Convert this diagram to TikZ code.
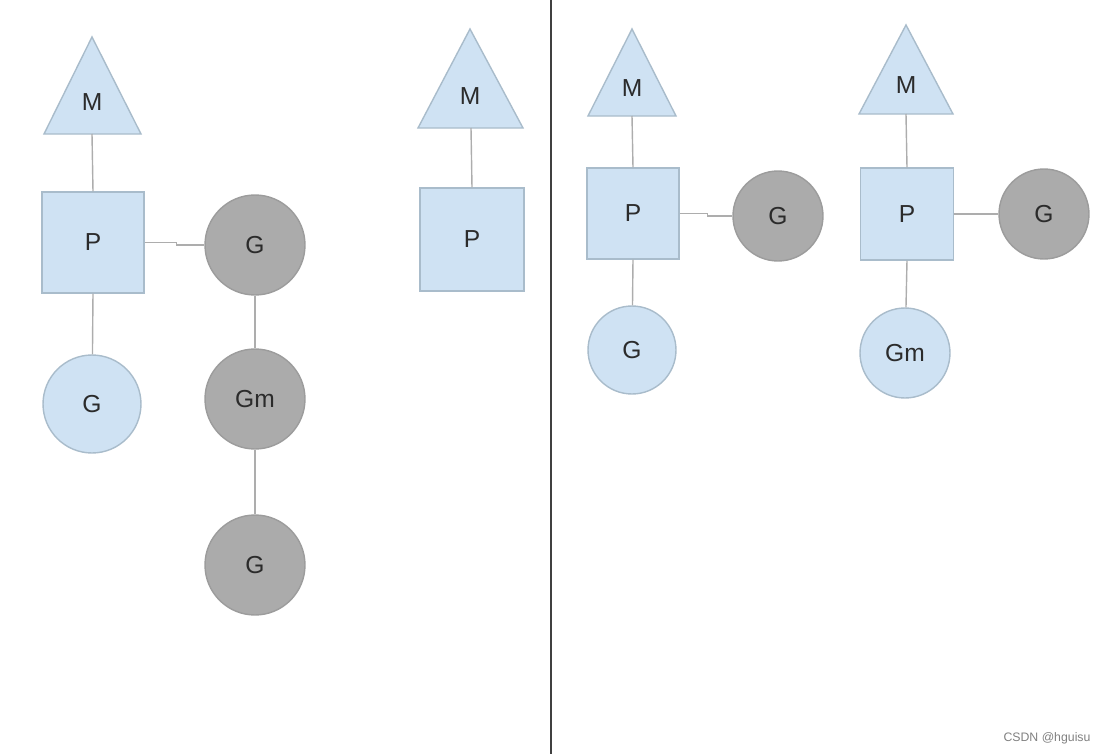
\documentclass[tikz,border=0pt]{standalone}
\usepackage{fontspec}
\setmainfont{Liberation Sans}
\usetikzlibrary{positioning}

\definecolor{procblue}{HTML}{CFE2F3}
\definecolor{procedge}{HTML}{A9BCCB}
\definecolor{gorgray}{HTML}{ABABAB}
\definecolor{goredge}{HTML}{9C9C9C}
\definecolor{linkgray}{HTML}{ADADAD}
\definecolor{textdark}{HTML}{2B2B2B}

\tikzset{
    lbl/.style={text=textdark, font=\fontsize{14}{16}\selectfont},
    machine/.style={fill=procblue, draw=procedge, line width=0.8pt},
    proc/.style={lbl, rectangle, fill=procblue, draw=procedge, line width=0.8pt},
    gidle/.style={lbl, circle, fill=procblue, draw=procedge, line width=0.8pt, inner sep=0pt},
    grun/.style={lbl, circle, fill=gorgray, draw=goredge, line width=0.8pt, inner sep=0pt},
    link/.style={draw=linkgray, line width=0.8pt}
}

\begin{document}
\begin{tikzpicture}[x=0.02cm, y=-0.02cm]
    \useasboundingbox (0,0) rectangle (1100,754);

    % ---- left: M, P and a G blocked in a syscall (Gm) ----
    \draw[machine] (92,37) -- (141,134) -- (44,134) -- cycle;
    \node[lbl] (m1) at (92,102) {M};
    \coordinate (m1b) at (92,134);
    \node[proc, minimum width=2.04cm, minimum height=2.02cm] (p1) at (93,242.5) {P};
    \node[grun, minimum size=2cm] (g1) at (255,245) {G};
    \node[grun, minimum size=2cm] (gm1) at (255,399) {Gm};
    \node[grun, minimum size=2cm] (g2) at (255,565) {G};
    \node[gidle, minimum size=1.96cm] (g3) at (92,404) {G};

    \draw[link] (m1b) -- (p1.north);
    \draw[link] (p1.east) -- ++(32,0) |- (g1.west);
    \draw[link] (g1) -- (gm1);
    \draw[link] (gm1) -- (g2);
    \draw[link] (p1.south) -- (g3);

    % ---- middle: idle M with P ----
    \draw[machine] (470,29) -- (523,128) -- (418,128) -- cycle;
    \node[lbl] (m2) at (470,96) {M};
    \coordinate (m2b) at (471,128);
    \node[proc, minimum width=2.08cm, minimum height=2.06cm] (p2) at (472,239.5) {P};
    \draw[link] (m2b) -- (p2.north);

    % divider
    \draw[draw=black!75, line width=1.7pt] (551,0) coordinate (dtop) -- (551,754) coordinate (dbot);

    % ---- right: two M/P pairs ----
    \draw[machine] (632,29) -- (676,116) -- (588,116) -- cycle;
    \node[lbl] (m3) at (632,88) {M};
    \coordinate (m3b) at (632,116);
    \node[proc, minimum width=1.84cm, minimum height=1.82cm] (p3) at (633,213.5) {P};
    \node[grun, minimum size=1.8cm] (g4) at (778,216) {G};
    \node[gidle, minimum size=1.76cm] (g5) at (632,350) {G};
    \draw[link] (m3b) -- (p3.north);
    \draw[link] (p3.east) -- ++(28,0) |- (g4.west);
    \draw[link] (p3.south) -- (g5);

    \draw[machine] (906,25) -- (953,114) -- (859,114) -- cycle;
    \node[lbl] (m4) at (906,85) {M};
    \coordinate (m4b) at (906,114);
    \node[proc, minimum width=1.86cm, minimum height=1.84cm] (p4) at (907,214) {P};
    \node[grun, minimum size=1.8cm] (g6) at (1044,214) {G};
    \node[gidle, minimum size=1.8cm] (gm2) at (905,353) {Gm};
    \draw[link] (m4b) -- (p4.north);
    \draw[link] (p4.east) -- (g6.west);
    \draw[link] (p4.south) -- (gm2);

    \node[text=black!50, font=\fontsize{7}{8}\selectfont] (mark) at (1047,738) {CSDN @hguisu};
\end{tikzpicture}
\end{document}
